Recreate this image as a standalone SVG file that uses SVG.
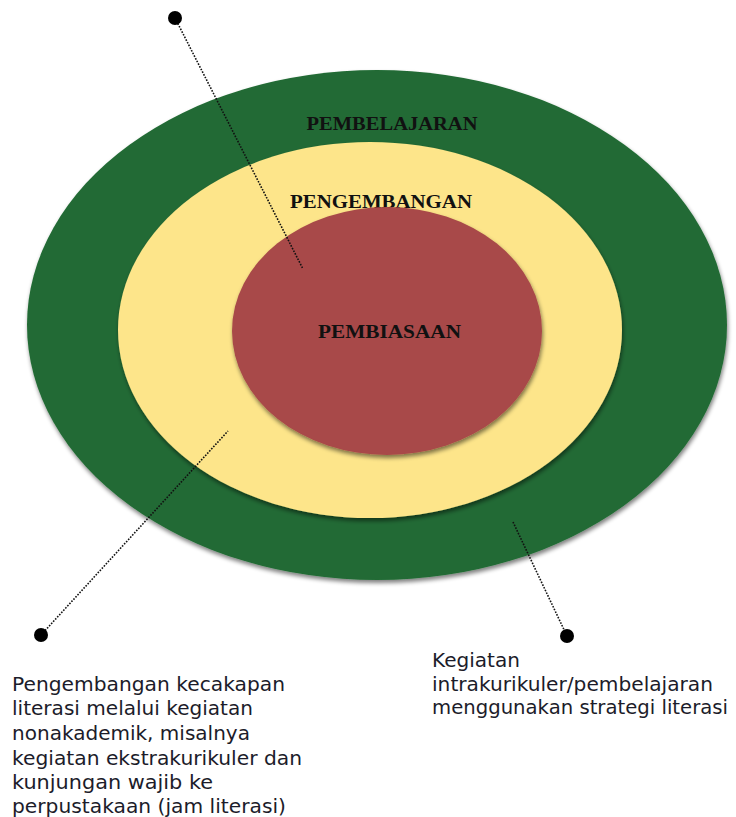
<svg xmlns="http://www.w3.org/2000/svg" width="736" height="817" viewBox="0 0 736 817">
<style>
.lbl{font-family:"Liberation Serif","DejaVu Serif",serif;font-weight:bold;font-size:19.5px;fill:#111;text-anchor:middle}
.note{font-family:"DejaVu Sans",Verdana,sans-serif;font-size:19px;fill:#1c1c2a}
.lead{stroke:#111;stroke-width:1.6;stroke-dasharray:1.6 1.4;fill:none}
.dot{fill:#000}
</style>
<defs>
<filter id="sh" x="-10%" y="-10%" width="120%" height="120%">
<feGaussianBlur in="SourceAlpha" stdDeviation="2"/>
<feOffset dx="1" dy="3"/>
<feComponentTransfer><feFuncA type="linear" slope="0.5"/></feComponentTransfer>
<feMerge><feMergeNode/><feMergeNode in="SourceGraphic"/></feMerge>
</filter>
</defs>
<rect width="736" height="817" fill="#fff"/>
<g id="pembelajaran">
<ellipse cx="377" cy="325" rx="350" ry="255" fill="#216b34" filter="url(#sh)"/>
<text class="lbl" x="392" y="130" textLength="171" lengthAdjust="spacingAndGlyphs">PEMBELAJARAN</text>
</g>
<g id="pengembangan">
<ellipse cx="370" cy="330" rx="252" ry="188" fill="#fde58a" filter="url(#sh)"/>
<text class="lbl" x="381" y="208" textLength="182" lengthAdjust="spacingAndGlyphs">PENGEMBANGAN</text>
</g>
<g id="pembiasaan">
<ellipse cx="387" cy="331" rx="155" ry="124" fill="#a84a48" filter="url(#sh)"/>
<text class="lbl" x="389.5" y="338" textLength="143" lengthAdjust="spacingAndGlyphs">PEMBIASAAN</text>
</g>
<g id="connectors">
<line class="lead" x1="175" y1="18" x2="303" y2="269"/>
<line class="lead" x1="41" y1="635" x2="228" y2="431"/>
<line class="lead" x1="513" y1="522" x2="567" y2="636"/>
<circle class="dot" cx="175" cy="18" r="7"/>
<circle class="dot" cx="41" cy="635" r="7"/>
<circle class="dot" cx="567" cy="636" r="7"/>
</g>
<g id="note-left">
<text class="note" x="12" y="691" textLength="273" lengthAdjust="spacingAndGlyphs">Pengembangan kecakapan</text>
<text class="note" x="12" y="715" textLength="241" lengthAdjust="spacingAndGlyphs">literasi melalui kegiatan</text>
<text class="note" x="12" y="740" textLength="238" lengthAdjust="spacingAndGlyphs">nonakademik, misalnya</text>
<text class="note" x="12" y="765" textLength="290" lengthAdjust="spacingAndGlyphs">kegiatan ekstrakurikuler dan</text>
<text class="note" x="12" y="789" textLength="201" lengthAdjust="spacingAndGlyphs">kunjungan wajib ke</text>
<text class="note" x="12" y="813" textLength="274" lengthAdjust="spacingAndGlyphs">perpustakaan (jam literasi)</text>
</g>
<g id="note-right">
<text class="note" x="432" y="667" textLength="88" lengthAdjust="spacingAndGlyphs">Kegiatan</text>
<text class="note" x="432" y="691" textLength="281" lengthAdjust="spacingAndGlyphs">intrakurikuler/pembelajaran</text>
<text class="note" x="432" y="714" textLength="296" lengthAdjust="spacingAndGlyphs">menggunakan strategi literasi</text>
</g>
</svg>
